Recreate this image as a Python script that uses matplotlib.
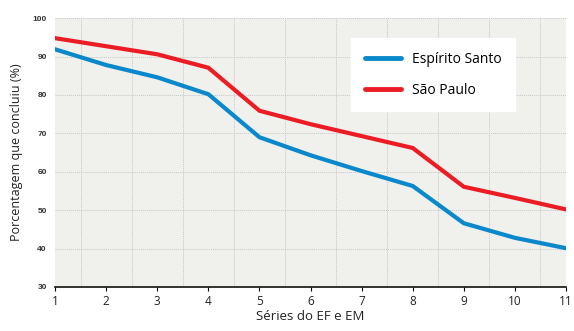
import matplotlib.pyplot as plt
import numpy as np

series = [1, 2, 3, 4, 5, 6, 7, 8, 9, 10, 11]
espirito_santo = [91.9, 87.8, 84.6, 80.2, 69.0, 64.3, 60.2, 56.3, 46.6, 42.8, 40.1]
sao_paulo = [94.8, 92.7, 90.6, 87.1, 75.9, 72.4, 69.3, 66.2, 56.1, 53.2, 50.2]
y_ticks = [30, 40, 50, 60, 70, 80, 90, 100]

blue = '#0a88cc'
red = '#ec1c24'

fig = plt.figure(figsize=(5.74, 3.31), dpi=100)
ax = fig.add_axes([0.096, 0.133, 0.890, 0.812])
ax.set_facecolor('#f0f0ed')

ax.plot(series, espirito_santo, color=blue, lw=3, label='Espírito Santo', solid_joinstyle='miter')
ax.plot(series, sao_paulo, color=red, lw=3, label='São Paulo', solid_joinstyle='miter')

ax.set_xlim(1, 11)
ax.set_ylim(30, 100)
ax.set_xticks(series)
ax.set_xticklabels([str(s) for s in series], fontsize=8.5, family='Open Sans', color='#222222')
ax.set_xticks(np.arange(1.5, 11, 1), minor=True)
ax.set_yticks(y_ticks)
ax.set_yticklabels([str(v) for v in y_ticks], fontsize=6, fontweight='bold',
                   family='Liberation Sans', color='#333333')

# light dotted grid: horizontal at every 10, vertical between the series
ax.grid(which='minor', axis='x', color='#c6c6c6', lw=0.7, ls=(0, (1, 1)))
ax.grid(which='major', axis='y', color='#c6c6c6', lw=0.7, ls=(0, (1, 1)))
ax.tick_params(axis='x', which='major', length=3, width=0.8, direction='out', pad=3)
ax.tick_params(axis='x', which='minor', length=0)
ax.tick_params(axis='y', length=0, pad=6)

for side in ('top', 'right', 'left'):
    ax.spines[side].set_visible(False)
ax.spines['bottom'].set_linewidth(1.2)
ax.spines['bottom'].set_color('#111111')

ax.set_xlabel('Séries do EF e EM', fontsize=9.5, family='Open Sans', color='#222222', labelpad=1)
ax.set_ylabel('Porcentagem que concluiu (%)', fontsize=9, family='Open Sans', color='#222222', labelpad=7)

leg = ax.legend(loc='upper left', bbox_to_anchor=(0.58, 0.925), frameon=True, fancybox=False,
                edgecolor='white', facecolor='white', framealpha=1,
                prop={'family': 'Open Sans', 'size': 10}, handlelength=2.6,
                labelspacing=1.15, borderpad=0.95, borderaxespad=0, handletextpad=0.8)
for line in leg.get_lines():
    line.set_linewidth(3.5)
    line.set_solid_capstyle('round')

fig.savefig('out.png', dpi=100)
